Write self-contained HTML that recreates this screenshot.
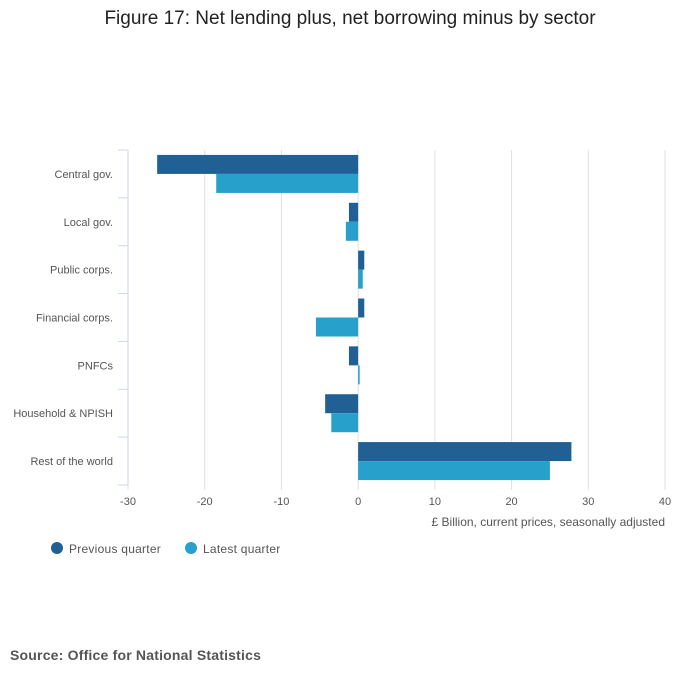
<!DOCTYPE html>
<html><head><meta charset="utf-8">
<style>
body{margin:0;background:#fff;font-family:"Liberation Sans","DejaVu Sans",sans-serif;}
#wrap{position:relative;width:700px;height:682px;overflow:hidden;}
</style></head>
<body>
<div id="wrap">
<svg id="chart" width="700" height="682" xmlns="http://www.w3.org/2000/svg">
<text x="350" y="24" text-anchor="middle" font-size="19" fill="#222">Figure 17: Net lending plus, net borrowing minus by sector</text>
<g id="grid"></g>
<g id="bars"></g>
<g id="axes"></g>
<text x="665" y="526" text-anchor="end" font-size="12" fill="#555">£ Billion, current prices, seasonally adjusted</text>
<g>
<circle cx="57" cy="548" r="6" fill="#206095"/>
<text x="69" y="553" font-size="12" letter-spacing="0.25" fill="#555">Previous quarter</text>
<circle cx="191" cy="548" r="6" fill="#27a0cc"/>
<text x="203" y="553" font-size="12" letter-spacing="0.25" fill="#555">Latest quarter</text>
</g>
<text x="10" y="660" font-size="14" letter-spacing="0.2" font-weight="bold" fill="#555">Source: Office for National Statistics</text>
</svg>
</div>
<script>
const categories=["Central gov.","Local gov.","Public corps.","Financial corps.","PNFCs","Household & NPISH","Rest of the world"];
const previousQuarter=[-26.2,-1.2,0.8,0.8,-1.2,-4.3,27.8];
const latestQuarter=[-18.5,-1.6,0.6,-5.5,0.2,-3.5,25.0];
const xTicks=[-30,-20,-10,0,10,20,30,40];

const NS="http://www.w3.org/2000/svg";
const x0=128,x1=665,y0=150,y1=485,xmin=-30,xmax=40;
function xs(v){return x0+(v-xmin)/(xmax-xmin)*(x1-x0);}
const band=(y1-y0)/categories.length;
function mk(tag,attrs,parent){const e=document.createElementNS(NS,tag);for(const k in attrs)e.setAttribute(k,attrs[k]);document.getElementById(parent).appendChild(e);return e;}

xTicks.forEach(t=>{
  const l=mk('line',{x1:xs(t),x2:xs(t),y1:y0,y2:y1+5,stroke:'#e0e0e0','stroke-width':1},'grid');
  
  
  const tx=mk('text',{x:xs(t),y:y1+20,'text-anchor':'middle','font-size':11,fill:'#555'},'axes');
  tx.textContent=t;
  
  
});
const ax=mk('line',{x1:x0,x2:x0,y1:y0,y2:y1,stroke:'#ccd6eb','stroke-width':1},'axes');


for(let i=0;i<=categories.length;i++){
  const tk=mk('line',{x1:x0-10,x2:x0,y1:y0+i*band,y2:y0+i*band,stroke:'#ccd6eb','stroke-width':1},'axes');
  
  
}
const bh=19;
categories.forEach((c,i)=>{
  const yc=y0+i*band+band/2;
  const lb=mk('text',{x:113,y:yc+4,'text-anchor':'end','font-size':11,fill:'#555'},'axes');
  lb.textContent=c;
  
  
  [[previousQuarter[i],'#206095',yc-bh,'bar-previous'],[latestQuarter[i],'#27a0cc',yc,'bar-latest']].forEach(([v,col,y,nm])=>{
    const a=xs(Math.min(0,v)),b=xs(Math.max(0,v));
    const r=mk('rect',{x:a,y:y,width:Math.max(b-a,0.5),height:bh,fill:col},'bars');
    
    
  });
});
</script>
</body></html>
